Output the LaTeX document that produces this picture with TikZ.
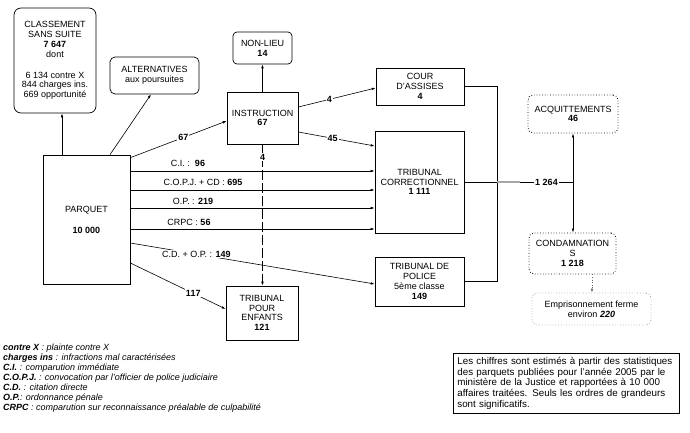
\documentclass[tikz,border=0pt]{standalone}
\usepackage{fontspec}
\setmainfont{Liberation Sans}
\usetikzlibrary{arrows.meta}
\begin{document}
\begin{tikzpicture}[x=1pt,y=-1pt,
  box/.style={draw, line width=0.7pt, align=center, inner sep=1pt, font=\fontsize{9}{9.8}\selectfont},
  rbox/.style={box, rounded corners=7pt},
  dbox/.style={box, dotted, rounded corners=5pt, line width=0.9pt},
  conn/.style={line width=0.6pt, -{Latex[length=4pt,width=2.6pt]}},
  plain/.style={line width=0.7pt},
  lab/.style={fill=white, inner sep=1pt, font=\fontsize{9}{9.8}\selectfont},
]
\useasboundingbox (0,0) rectangle (690,433);

% nodes
\node[rbox, minimum width=82pt, minimum height=105pt] (css) at (55,60.5)
  {CLASSEMENT\\SANS SUITE\\\textbf{7 647}\\dont\\[11pt]6 134 contre X\\844 charges ins.\\669 opportunité};
\node[rbox, rounded corners=5pt, minimum width=89pt, minimum height=37pt] (alt) at (154.5,75.5)
  {ALTERNATIVES\\aux poursuites};
\node[box, minimum width=87pt, minimum height=129pt] (parquet) at (86.5,219.5)
  {PARQUET\\[11pt]\textbf{10 000}};
\node[rbox, rounded corners=4pt, minimum width=59pt, minimum height=32pt] (nonlieu) at (262.5,48)
  {NON-LIEU\\\textbf{14}};
\node[box, minimum width=71pt, minimum height=52pt] (instr) at (262.5,118)
  {INSTRUCTION\\\textbf{67}};
\node[box, minimum width=88pt, minimum height=37pt] (cour) at (420,86.5)
  {COUR\\D'ASSISES\\\textbf{4}};
\node[box, minimum width=89pt, minimum height=102pt] (tc) at (419.5,182)
  {TRIBUNAL\\CORRECTIONNEL\\\textbf{1 111}};
\node[box, minimum width=89pt, minimum height=49pt] (tp) at (419.5,281.5)
  {TRIBUNAL DE\\POLICE\\5ème classe\\\textbf{149}};
\node[box, minimum width=72pt, minimum height=54pt] (tpe) at (262,313)
  {TRIBUNAL\\POUR\\ENFANTS\\\textbf{121}};
\node[dbox, minimum width=90pt, minimum height=38pt] (acq) at (573,114)
  {ACQUITTEMENTS\\\textbf{46}};
\node[dbox, minimum width=87pt, minimum height=41pt] (cond) at (572.5,253.5)
  {CONDAMNATION\\S\\\textbf{1 218}};
\node[dbox, draw=black!35, minimum width=119pt, minimum height=32pt] (emp) at (591.5,309)
  {Emprisonnement ferme\\environ \textbf{\textit{220}}};

% connectors from parquet
\draw[conn] ([xshift=-24.5pt]parquet.north) -- ([xshift=7pt]css.south);
\draw[conn] ([xshift=23.5pt]parquet.north) -- ([xshift=-3.5pt]alt.south);
\draw[conn] ([yshift=-3pt]parquet.north east) -- node[lab, pos=0.55]{\textbf{67}} ([yshift=-3pt]instr.west);
\draw[conn] (instr.north) -- (nonlieu.south);
\draw[conn] ([yshift=11pt]instr.east) -- node[lab, pos=0.4]{\textbf{4}} ([yshift=-1.5pt]cour.west);
\draw[conn] ([yshift=-14pt]instr.east) -- node[lab, pos=0.45]{\textbf{45}} ([yshift=36pt]tc.west);
\draw[conn, dash pattern=on 10pt off 3pt] (instr.south) -- node[lab, pos=0.09]{\textbf{4}} (instr.south |- tpe.north);

\coordinate (ci) at ([yshift=48.5pt]parquet.east);
\coordinate (copj) at ([yshift=29.5pt]parquet.east);
\coordinate (op) at ([yshift=11.5pt]parquet.east);
\coordinate (crpc) at ([yshift=-9.5pt]parquet.east);
\draw[conn] (ci) -- (ci -| tc.west);
\draw[conn] (copj) -- (copj -| tc.west);
\draw[conn] (op) -- (op -| tc.west);
\draw[conn] (crpc) -- (crpc -| tc.west);
\node[lab, fill=none] (lci) at (188,163) {C.I. :\ \ \textbf{96}};
\node[lab, fill=none] (lcopj) at (203,182) {C.O.P.J. + CD : \textbf{695}};
\node[lab, fill=none] (lop) at (193,201) {O.P. : \textbf{219}};
\node[lab, fill=none] (lcrpc) at (189,222) {CRPC : \textbf{56}};
\draw[conn] ([yshift=-23.5pt]parquet.east) -- node[lab, pos=0.27]{C.D. + O.P. : \textbf{149}} ([yshift=-2.5pt]tp.west);
\draw[conn] ([yshift=-43.5pt]parquet.east) -- node[lab, pos=0.66]{\textbf{117}} ([yshift=4pt]tpe.west);

% right side
\coordinate (jx) at (497,182);
\coordinate (j2) at (acq.south |- tc.east);
\draw[plain] (cour.east) -- (cour.east -| jx) -- (tp.east -| jx) -- (tp.east);
\draw[plain] (tc.east) -- (jx);
\draw[plain, black!35, line width=1.2pt] (jx) -- ++(23,0) coordinate (jg);
\draw[plain] (jg) -- node[lab]{\textbf{1 264}} (j2);
\draw[conn] (j2) -- (acq.south);
\draw[conn] (j2) -- (acq.south |- cond.north);
\draw[conn, dotted, black!60] ([xshift=19.5pt]cond.south) -- ([xshift=19.5pt]cond.south |- emp.north);

% legend
\node[anchor=north west, align=left, inner sep=0pt, font=\fontsize{9}{10}\selectfont\itshape] (legend) at (3,344)
  {\textbf{contre X} : plainte contre X\\
   \textbf{charges ins} : infractions mal caractérisées\\
   \textbf{C.I.} : comparution immédiate\\
   \textbf{C.O.P.J.} : convocation par l'officier de police judiciaire\\
   \textbf{C.D.} : citation directe\\
   \textbf{O.P.}: ordonnance pénale\\
   \textbf{CRPC} : comparution sur reconnaissance préalable de culpabilité};

% notes
\node[draw, line width=0.7pt, anchor=north west, minimum width=226pt, minimum height=60pt, text width=218pt, inner xsep=4pt, align=left, font=\fontsize{9.8}{10.8}\selectfont] (notes) at (453,353)
  {Les chiffres sont estimés à partir des statistiques\\
   des parquets publiées pour l'année 2005 par le\\
   ministère de la Justice et rapportées à 10 000\\
   affaires traitées. Seuls les ordres de grandeurs\\
   sont significatifs.};
\end{tikzpicture}
\end{document}
